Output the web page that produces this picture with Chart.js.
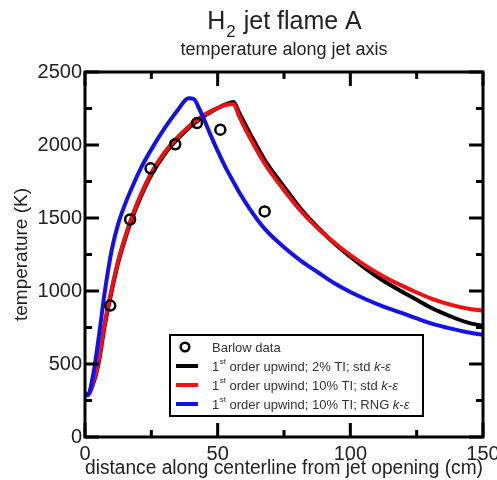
<!DOCTYPE html>
<html>
<head>
<meta charset="utf-8">
<script src="https://cdn.jsdelivr.net/npm/chart.js@4.4.1/dist/chart.umd.min.js"></script>
<style>
  html, body { margin: 0; padding: 0; background: #fff; }
  #wrap { width: 497px; height: 480px; }
</style>
</head>
<body>
<div id="wrap"><canvas id="flameChart" width="497" height="480"></canvas></div>
<script>
// Centerline temperature, H2 jet flame A (distance in cm, temperature in K)
const distanceCm = [0, 1, 3, 5, 7.5, 10, 12.5, 15, 17.5, 21, 25, 30, 35, 39, 41, 43, 45, 48, 51, 53, 56, 58, 62, 68, 75, 81, 88, 94, 100, 106, 112, 119, 125, 131, 138, 144, 150];
const tempStd2 = [300, 290, 360, 495, 770, 995, 1195, 1350, 1485, 1645, 1795, 1937, 2043, 2115, 2145, 2174, 2200, 2233, 2262, 2278, 2295, 2225, 2085, 1890, 1715, 1570, 1430, 1325, 1235, 1150, 1075, 1000, 940, 880, 825, 785, 760];
const tempStd10 = [300, 290, 370, 510, 790, 1010, 1210, 1365, 1500, 1660, 1810, 1950, 2055, 2125, 2155, 2183, 2207, 2237, 2262, 2274, 2280, 2200, 2055, 1865, 1690, 1555, 1425, 1330, 1245, 1170, 1105, 1040, 990, 945, 905, 880, 865];
const tempRng10 = [300, 285, 420, 660, 1000, 1275, 1460, 1590, 1700, 1840, 1970, 2115, 2240, 2320, 2315, 2250, 2170, 2040, 1920, 1845, 1745, 1680, 1565, 1420, 1300, 1212, 1125, 1053, 993, 942, 897, 852, 812, 775, 742, 718, 700];

// Barlow measurements
const barlowDistance = [9.5, 17, 24.7, 34, 42.2, 51, 67.7];
const barlowTemp = [900, 1490, 1840, 2005, 2150, 2105, 1545];

const seriesLabels = [
  'Barlow data',
  '1st order upwind; 2% TI; std k-ε',
  '1st order upwind; 10% TI; std k-ε',
  '1st order upwind; 10% TI; RNG k-ε'
];

// Axis ranges and tick steps
const xRange = [0, 150];
const yRange = [0, 2500];
const xMinorStep = 25, xMajorStep = 50;
const yMinorStep = 250, yMajorStep = 500;

const FONT = 'Liberation Sans, Arial, Helvetica, sans-serif';
const TEXT_COLOR = '#222';

function toPoints(xs, ys) {
  return xs.map((x, i) => ({ x: x, y: ys[i] }));
}

function curve(label, values, color, order) {
  return {
    label: label,
    data: toPoints(distanceCm, values),
    showLine: true,
    borderColor: color,
    backgroundColor: color,
    borderWidth: 4,
    pointRadius: 0,
    cubicInterpolationMode: 'monotone',
    order: order
  };
}

// Frame, inward tick marks, heading and legend box
const decorations = {
  id: 'decorations',
  afterDatasetsDraw(chart) {
    const ctx = chart.ctx;
    const area = chart.chartArea;
    const xs = chart.scales.x, ys = chart.scales.y;
    ctx.save();
    ctx.strokeStyle = '#000';
    ctx.lineWidth = 3;
    ctx.lineCap = 'butt';

    // tick marks on all four sides
    xs.ticks.forEach(t => {
      const len = t.value % xMajorStep === 0 ? 14 : 7;
      const p = xs.getPixelForValue(t.value);
      ctx.beginPath();
      ctx.moveTo(p, area.bottom); ctx.lineTo(p, area.bottom - len);
      ctx.moveTo(p, area.top); ctx.lineTo(p, area.top + len);
      ctx.stroke();
    });
    ys.ticks.forEach(t => {
      const len = t.value % yMajorStep === 0 ? 14 : 7;
      const p = ys.getPixelForValue(t.value);
      ctx.beginPath();
      ctx.moveTo(area.left, p); ctx.lineTo(area.left + len, p);
      ctx.moveTo(area.right, p); ctx.lineTo(area.right - len, p);
      ctx.stroke();
    });

    ctx.strokeRect(area.left, area.top, area.right - area.left, area.bottom - area.top);
    ctx.restore();

    drawHeading(chart);
    drawLegend(chart);
  }
};

function drawHeading(chart) {
  const ctx = chart.ctx;
  const area = chart.chartArea;
  const cx = (area.left + area.right) / 2;
  ctx.save();
  ctx.fillStyle = TEXT_COLOR;
  ctx.textBaseline = 'alphabetic';
  ctx.textAlign = 'left';

  const big = '25px ' + FONT, sub = '17px ' + FONT;
  ctx.font = big;
  const wH = ctx.measureText('H').width;
  const wRest = ctx.measureText(' jet flame A').width;
  ctx.font = sub;
  const w2 = ctx.measureText('2').width + 1;
  let x = cx - (wH + w2 + wRest) / 2;
  const base = 29;
  ctx.font = big;
  ctx.fillText('H', x, base);
  x += wH + 1;
  ctx.font = sub;
  ctx.fillText('2', x, base + 8);
  x += w2;
  ctx.font = big;
  ctx.fillText(' jet flame A', x, base);

  ctx.font = '18px ' + FONT;
  ctx.textAlign = 'center';
  ctx.fillText('temperature along jet axis', cx, 55);
  ctx.restore();
}

// Writes "1st ... k-ε" with a raised "st" and an italic k-ε
function drawRichLabel(ctx, text, x, y) {
  const size = 13;
  let rest = text;
  if (rest.startsWith('1st')) {
    ctx.font = size + 'px ' + FONT;
    ctx.fillText('1', x, y);
    x += ctx.measureText('1').width + 0.5;
    ctx.font = '8px ' + FONT;
    ctx.fillText('st', x, y - 5);
    x += ctx.measureText('st').width;
    rest = rest.slice(3);
  }
  let tail = '';
  if (rest.endsWith('k-ε')) {
    tail = 'k-ε';
    rest = rest.slice(0, -3);
  }
  ctx.font = size + 'px ' + FONT;
  ctx.fillText(rest, x, y);
  x += ctx.measureText(rest).width;
  if (tail) {
    ctx.font = 'italic ' + size + 'px ' + FONT;
    ctx.fillText(tail, x, y);
  }
}

function drawLegend(chart) {
  const ctx = chart.ctx;
  const area = chart.chartArea;
  const left = area.left + 85, top = area.top + 263;
  const w = 253, h = 81, rowH = 19;
  ctx.save();
  ctx.fillStyle = '#fff';
  ctx.fillRect(left, top, w, h);
  ctx.strokeStyle = '#000';
  ctx.lineWidth = 2;
  ctx.strokeRect(left, top, w, h);

  chart.data.datasets.forEach((ds, i) => {
    const cy = top + 12 + i * rowH;
    if (ds.showLine) {
      ctx.strokeStyle = ds.borderColor;
      ctx.lineWidth = 4;
      ctx.beginPath();
      ctx.moveTo(left + 6, cy);
      ctx.lineTo(left + 28, cy);
      ctx.stroke();
    } else {
      ctx.strokeStyle = '#000';
      ctx.lineWidth = 2.5;
      ctx.beginPath();
      ctx.arc(left + 15, cy, 4.3, 0, Math.PI * 2);
      ctx.stroke();
    }
    ctx.fillStyle = '#333';
    ctx.textBaseline = 'middle';
    ctx.textAlign = 'left';
    drawRichLabel(ctx, ds.label, left + 42, cy + 1);
  });
  ctx.restore();
}

const tickFont = { family: FONT, size: 20 };

new Chart(document.getElementById('flameChart'), {
  type: 'scatter',
  data: {
    datasets: [
      {
        label: seriesLabels[0],
        data: toPoints(barlowDistance, barlowTemp),
        showLine: false,
        pointRadius: 5,
        pointBorderWidth: 2.5,
        pointBorderColor: '#000',
        pointBackgroundColor: 'rgba(0,0,0,0)',
        borderColor: '#000',
        order: 0
      },
      curve(seriesLabels[1], tempStd2, '#000000', 3),
      curve(seriesLabels[2], tempStd10, 'rgb(240, 16, 16)', 2),
      curve(seriesLabels[3], tempRng10, 'rgb(18, 18, 232)', 1)
    ]
  },
  options: {
    responsive: false,
    animation: false,
    layout: { padding: { left: 0, right: 14, top: 72, bottom: 0 } },
    plugins: {
      legend: { display: false },
      tooltip: { enabled: false },
      title: { display: false }
    },
    scales: {
      x: {
        type: 'linear',
        min: xRange[0],
        max: xRange[1],
        grid: { display: false, drawTicks: false },
        border: { display: false },
        ticks: {
          stepSize: xMinorStep,
          autoSkip: false,
          maxRotation: 0,
          padding: 5,
          color: TEXT_COLOR,
          font: tickFont,
          callback: v => (v % xMajorStep === 0 ? String(v) : '')
        },
        title: {
          display: true,
          text: 'distance along centerline from jet opening (cm)',
          color: TEXT_COLOR,
          font: { family: FONT, size: 20 },
          padding: { top: 0, bottom: 0 }
        },
        afterFit(scale) {
          scale.height = 43;
          scale.paddingLeft = 0;
          scale.paddingRight = 0;
        }
      },
      y: {
        type: 'linear',
        min: yRange[0],
        max: yRange[1],
        grid: { display: false, drawTicks: false },
        border: { display: false },
        ticks: {
          stepSize: yMinorStep,
          autoSkip: false,
          padding: 3,
          color: TEXT_COLOR,
          font: tickFont,
          callback: v => (v % yMajorStep === 0 ? String(v) : '')
        },
        title: {
          display: true,
          text: 'temperature (K)',
          color: TEXT_COLOR,
          font: { family: FONT, size: 19 },
          padding: { top: 10, bottom: 0 }
        },
        afterFit(scale) {
          scale.width = 85;
          scale.paddingTop = 0;
          scale.paddingBottom = 0;
        }
      }
    }
  },
  plugins: [decorations]
});
</script>
</body>
</html>
